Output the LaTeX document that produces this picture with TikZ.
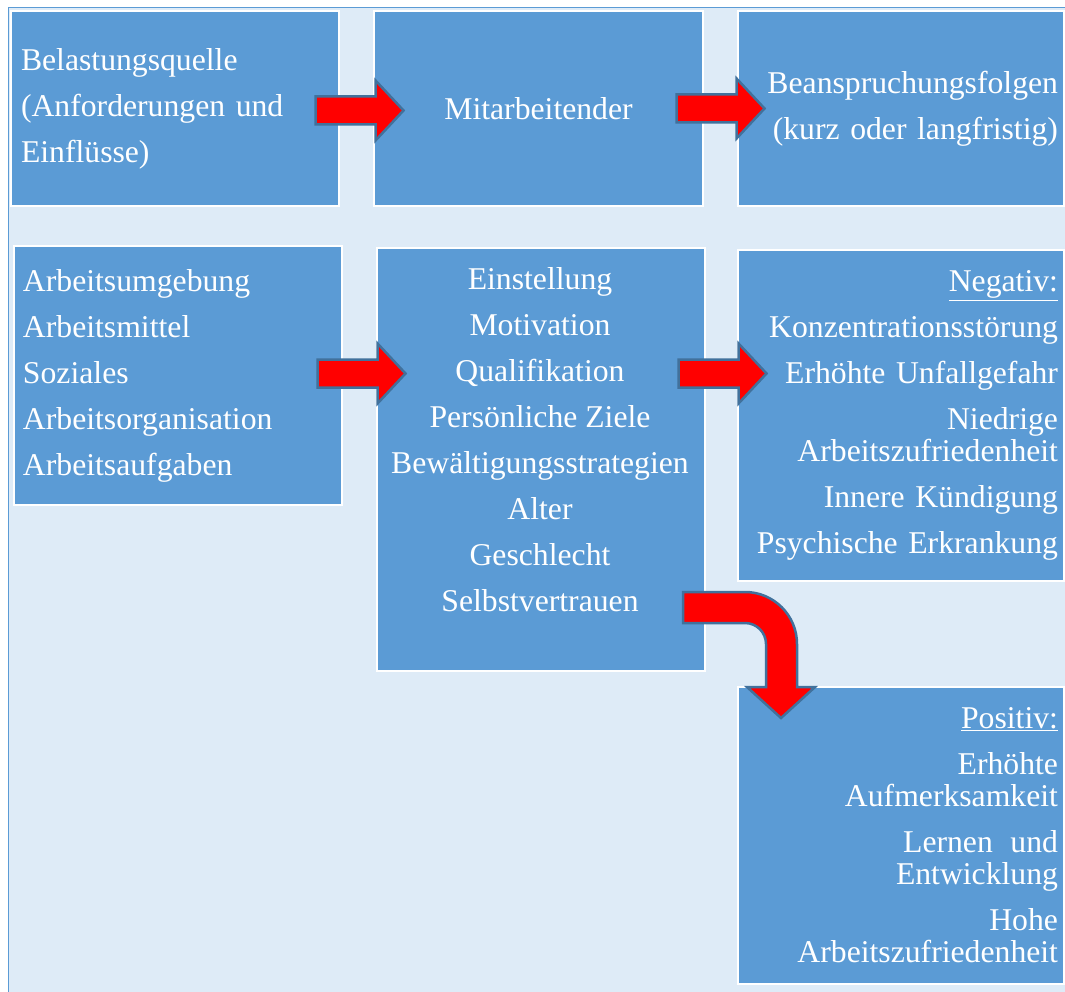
\documentclass[tikz,border=0pt]{standalone}
\usepackage{fontspec}
\setmainfont{Liberation Serif}
\usetikzlibrary{calc, positioning}
\definecolor{boxblue}{RGB}{91,155,213}
\definecolor{paleblue}{RGB}{222,235,247}
\definecolor{rimblue}{RGB}{65,113,156}

\tikzset{
  box/.style={draw=white, line width=2pt, fill=boxblue, text=white, anchor=north west, inner ysep=0pt},
  boxtext/.style={font=\fontsize{31.7pt}{46pt}\selectfont},
  redarrow/.style={fill=red, draw=rimblue, line width=2.5pt, line join=miter},
  blockarrow/.pic={
    \draw[redarrow] (-44,-14) -- (16,-14) -- (16,-30) -- (44,0) -- (16,30) -- (16,14) -- (-44,14) -- cycle;
  }
}

\begin{document}
\begin{tikzpicture}[x=1pt, y=-1pt]
    \useasboundingbox (0,0) rectangle (1065,992);
    % Background
    \fill[paleblue] (8.5,7.5) rectangle (1065,992);
    \draw[boxblue, line width=1.5pt] (8.5,992) -- (8.5,7.5) -- (1065,7.5);

    % Top row
    \node[box, boxtext, minimum height=195pt, text width=308pt, inner xsep=10pt, align=left] (quelle) at (10,10) {Belastungsquelle\\(Anforderungen und\\Einflüsse)};
    \node[box, boxtext, minimum height=195pt, text width=309pt, inner xsep=10pt, align=center] (mitarb) at (373,10) {Mitarbeitender};
    \node[box, boxtext, minimum height=195pt, text width=314pt, inner xsep=6pt, align=right] (folgen) at (737,10) {Beanspruchungsfolgen\\(kurz oder langfristig)};

    % Lower row
    \node[box, boxtext, minimum height=259pt, text width=310pt, inner xsep=9pt, align=left] (umgebung) at (13,245) {Arbeitsumgebung\\Arbeitsmittel\\Soziales\\Arbeitsorganisation\\Arbeitsaufgaben};
    \node[box, minimum height=423pt, minimum width=328pt] (pers) at (376,247) {};
    \node[boxtext, text=white, align=center] (perstext) at (540,440) {Einstellung\\Motivation\\Qualifikation\\Persönliche Ziele\\Bewältigungsstrategien\\Alter\\Geschlecht\\Selbstvertrauen};
    \node[box, boxtext, minimum height=331pt, text width=314pt, inner xsep=6pt, align=right] (neg) at (737,249) {\underline{Negativ:}\\Konzentrationsstörung\\Erhöhte Unfallgefahr\\Niedrige\\[-14pt]Arbeitszufriedenheit\\Innere Kündigung\\Psychische Erkrankung};
    \node[box, boxtext, minimum height=297pt, text width=314pt, inner xsep=6pt, align=right] (pos) at (737,686) {\underline{Positiv:}\\Erhöhte\\[-14pt]Aufmerksamkeit\\Lernen\hspace{7pt} und\\[-14pt]Entwicklung\\Hohe\\[-14pt]Arbeitszufriedenheit};

    % Block arrows
    \pic at ($(quelle.east)!.5!(mitarb.west)+(3,2)$) {blockarrow};
    \pic at ($(mitarb.east)!.5!(folgen.west)$) {blockarrow};
    \pic at ($(umgebung.east)!.5!(pers.west |- umgebung.east)+(2,-2)$) {blockarrow};
    \pic at ($(pers.east |- umgebung.east)!.5!(neg.west |- umgebung.east)+(1,-2)$) {blockarrow};

    % Bent arrow from pers down to pos
    \draw[redarrow] (683,592) -- (745,592) .. controls (773.7,592) and (797,615.3) .. (797,644)
        -- (797,687) -- (815,687) -- (781,718) -- (747,687) -- (766,687) -- (766,644)
        .. controls (766,632.4) and (756.6,623) .. (745,623) -- (683,623) -- cycle;
\end{tikzpicture}
\end{document}
